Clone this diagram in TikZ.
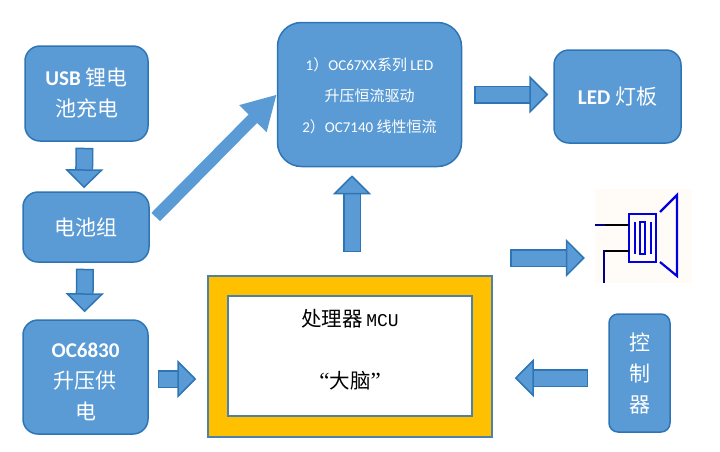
\documentclass[tikz,border=0pt]{standalone}
\usepackage{fontspec}
\setmainfont{Carlito}
\newfontfamily\cjk{Noto Sans CJK SC}
\newfontfamily\monomcu{Liberation Mono}
\newfontfamily\serifmcu{Liberation Serif}
\usetikzlibrary{arrows.meta}
\definecolor{boxfill}{HTML}{5B9BD5}
\definecolor{boxline}{HTML}{2E75B6}
\definecolor{gold}{HTML}{FFC000}
\definecolor{mculine}{HTML}{4F81A8}
\definecolor{spkblue}{HTML}{0000E0}
\definecolor{spkback}{HTML}{FFFBF6}
\definecolor{spknavy}{HTML}{000080}
\begin{document}
\begin{tikzpicture}[x=1pt, y=-1pt,
        main/.style={draw=boxline, fill=boxfill, line width=1.5pt, rounded corners=15pt, inner sep=0pt, text=white, align=center},
        big/.style={main, font=\fontsize{21}{31}\selectfont},
        small/.style={main, font=\fontsize{15}{31}\selectfont, rounded corners=24pt},
        blk/.style={line width=1.5pt, draw=boxline, double=boxfill, double distance=15pt, {Bar[width=18pt, line width=1.5pt]}-{Triangle[length=19pt, width=38pt, fill=boxfill, line width=1.5pt]}},
        diag/.style={line width=12pt, draw=boxfill, -{Triangle[length=34pt, width=36pt, fill=boxfill]}},
        spk/.style={draw=spkblue, line width=2.2pt}]
    \useasboundingbox (0,0) rectangle (720,451);
    % nodes
    \node[big, minimum width=123pt, minimum height=95pt] (usb) at (86.5,93.5) {\textbf{USB} {\cjk 锂电}\\{\cjk 池充电}};
    \node[big, minimum width=126pt, minimum height=70pt] (bat) at (86,227) {\cjk 电池组};
    \node[big, minimum width=125pt, minimum height=114pt] (oc) at (85.5,377) {\rule{0pt}{24pt}\textbf{OC6830}\\{\cjk 升压供}\\{\cjk 电}};
    \node[small, minimum width=184pt, minimum height=144pt] (driver) at (369.5,94.5) {\rule{0pt}{15pt}1{\cjk ）}OC67XX{\cjk 系列} LED\\{\cjk 升压恒流驱动}\\2{\cjk ）}OC7140 {\cjk 线性恒流}};
    \node[big, minimum width=127pt, minimum height=93pt] (led) at (617.5,96.5) {\textbf{LED} {\cjk 灯板}};
    \node[big, minimum width=61pt, minimum height=118pt, rounded corners=9pt] (ctrl) at (639.5,373) {\rule{0pt}{19pt}\cjk 控\\\cjk 制\\\cjk 器};
    \node[draw=mculine, fill=gold, line width=1.5pt, minimum width=284pt, minimum height=161pt, inner sep=0pt] (mcu) at (350,356.5) {};
    \node[draw=mculine, fill=white, line width=1.5pt, minimum width=244pt, minimum height=120pt, inner sep=0pt] (brain) at (350,356) {};
    \node[align=center, inner sep=0pt, font=\fontsize{20.5}{62}\selectfont] (brainlabel) at (350,350) {{\cjk 处理器}\,{\monomcu\fontsize{18}{62}\selectfont MCU}\\{\serifmcu\fontsize{23}{62}\selectfont “}{\cjk 大脑}{\serifmcu\fontsize{23}{62}\selectfont ”}};
    \node[fill=spkback, minimum width=97pt, minimum height=94pt, inner sep=0pt] (speaker) at (643.5,236) {};
    \coordinate (spktail) at (510,258);
    % edges
    \draw [blk, shorten <=6pt, shorten >=3pt] ([xshift=-2pt]usb.south) -- ([xshift=-2pt]bat.north);
    \draw [blk, shorten <=6pt, shorten >=7pt] ([xshift=-1pt]bat.south) -- ([xshift=-1pt]oc.north);
    \draw [blk, shorten <=9pt, shorten >=11pt] ([yshift=-2pt]oc.east) -- ([yshift=-2pt]oc.east -| mcu.west);
    \draw [blk, shorten <=23pt, shorten >=8pt] ([xshift=2pt]mcu.north) -- ([xshift=2pt]mcu.north |- driver.south);
    \draw [blk, shorten <=12pt, shorten >=5pt] (driver.east) -- (driver.east -| led.west);
    \draw [blk, shorten >=10pt] (spktail) -- (spktail -| speaker.west);
    \draw [blk, shorten <=20pt, shorten >=22pt] ([yshift=-5pt]ctrl.west) -- ([yshift=-5pt]ctrl.west -| mcu.east);
    \draw [diag] ([xshift=6pt, yshift=10pt]bat.east) -- (driver.west);
    % speaker
    \draw [spk] (629,214) rectangle (656,262);
    \draw [spk] (635,222) -- (635,254) (651,222) -- (651,254);
    \draw [spk] (640,222) rectangle (645,254);
    \draw [spk] (660,212) -- (677,195) -- (677,276) -- (660,262);
    \draw [line width=2.2pt, black] (605,225) -- (629,225);
    \draw [line width=2.2pt, spknavy] (595,225) -- (605,225);
    \draw [line width=2.2pt, black] (629,251) -- (604,251);
    \draw [line width=2.2pt, spknavy] (604,250) -- (604,283);
\end{tikzpicture}
\end{document}
